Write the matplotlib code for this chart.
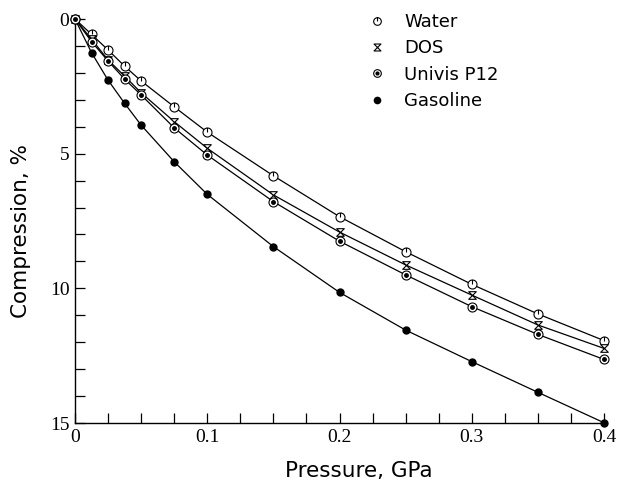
import numpy as np
import matplotlib
matplotlib.use("Agg")
import matplotlib.pyplot as plt
from matplotlib.path import Path
from matplotlib.lines import Line2D

pressure = [0.0, 0.0125, 0.025, 0.0375, 0.05, 0.075, 0.1, 0.15, 0.2, 0.25, 0.3, 0.35, 0.4]
water = [0.0, 0.57, 1.15, 1.75, 2.3, 3.26, 4.2, 5.82, 7.34, 8.64, 9.85, 10.95, 11.94]
dos = [0.0, 0.75, 1.52, 2.12, 2.74, 3.81, 4.8, 6.53, 7.91, 9.13, 10.25, 11.36, 12.23]
univis = [0.0, 0.84, 1.56, 2.23, 2.82, 4.04, 5.05, 6.78, 8.25, 9.5, 10.68, 11.71, 12.64]
gasoline = [0.0, 1.25, 2.27, 3.13, 3.94, 5.3, 6.51, 8.45, 10.15, 11.55, 12.72, 13.86, 14.99]

x_ticks = [0, 0.1, 0.2, 0.3, 0.4]
x_ticklabels = ["0", "0.1", "0.2", "0.3", "0.4"]
y_ticks = [0, 5, 10, 15]
y_ticklabels = ["0", "5", "10", "15"]

# custom markers
water_marker = Path.make_compound_path(
    Path.unit_circle(), Path([[0, 0], [0, 1]], [Path.MOVETO, Path.LINETO]))
dos_marker = Path([(-1, 1), (1, 1), (-1, -1), (1, -1), (-1, 1)],
                  [Path.MOVETO, Path.LINETO, Path.LINETO, Path.LINETO, Path.CLOSEPOLY])

fig = plt.figure(figsize=(6.19, 4.86), dpi=100)
ax = fig.add_axes([75/619, 1-423/486, 529/619, 404/486])

lw = 0.9
ax.plot(pressure, water, color="black", lw=lw, marker=water_marker, ms=6.5,
        mfc="white", mec="black", mew=0.8, clip_on=False, zorder=3)
ax.plot(pressure, dos, color="black", lw=lw, marker=dos_marker, ms=5.5,
        mfc="white", mec="black", mew=0.8, clip_on=False, zorder=3)
ax.plot(pressure, univis, color="black", lw=lw, marker="o", ms=6.5,
        mfc="white", mec="black", mew=0.8, clip_on=False, zorder=4)
ax.plot(pressure, univis, ls="none", marker="o", ms=2.5, mfc="black", mec="black",
        clip_on=False, zorder=5)
ax.plot(pressure, gasoline, color="black", lw=lw, marker="o", ms=5,
        mfc="black", mec="black", clip_on=False, zorder=3)

ax.set_xlim(0, 0.4)
ax.set_ylim(15, 0)
ax.spines["top"].set_visible(False)
ax.spines["right"].set_visible(False)
for s in ("left", "bottom"):
    ax.spines[s].set_linewidth(1.0)

ax.set_xticks(x_ticks)
ax.set_xticklabels(x_ticklabels, family="Liberation Serif", fontsize=14)
ax.set_yticks(y_ticks)
ax.set_yticklabels(y_ticklabels, family="Liberation Serif", fontsize=14)
ax.set_xticks(np.arange(0, 0.4001, 0.025), minor=True)
ax.set_yticks(np.arange(0, 15.01, 1), minor=True)
ax.tick_params(axis="both", which="both", direction="in", length=7, width=0.9, pad=4)

ax.set_xlabel("Pressure, GPa", family="DejaVu Sans", fontsize=15.5)
ax.set_ylabel("Compression, %", family="DejaVu Sans", fontsize=15.5)
ax.xaxis.set_label_coords((359 - 75) / 529, -(471 - 423) / 404)
ax.yaxis.set_label_coords(-(75 - 21) / 529, (423 - 231) / 404)
ax.xaxis.label.set_va("center")
ax.yaxis.label.set_va("center")

handles = [
    Line2D([], [], ls="none", marker=water_marker, ms=5.5, mfc="white", mec="black", mew=0.8),
    Line2D([], [], ls="none", marker=dos_marker, ms=5, mfc="white", mec="black", mew=0.8),
    (Line2D([], [], ls="none", marker="o", ms=5.5, mfc="white", mec="black", mew=0.8),
     Line2D([], [], ls="none", marker="o", ms=2, mfc="black", mec="black")),
    Line2D([], [], ls="none", marker="o", ms=4.5, mfc="black", mec="black"),
]
labels = ["Water", "DOS", "Univis P12", "Gasoline"]
leg = fig.legend(handles, labels, loc="upper left",
                 bbox_to_anchor=(368 / 619, 1 - 13 / 486),
                 frameon=False, prop={"family": "DejaVu Sans", "size": 13},
                 handlelength=1.0, handletextpad=1.0, labelspacing=0.46,
                 borderpad=0, borderaxespad=0)

fig.savefig("out.png", dpi=100)
